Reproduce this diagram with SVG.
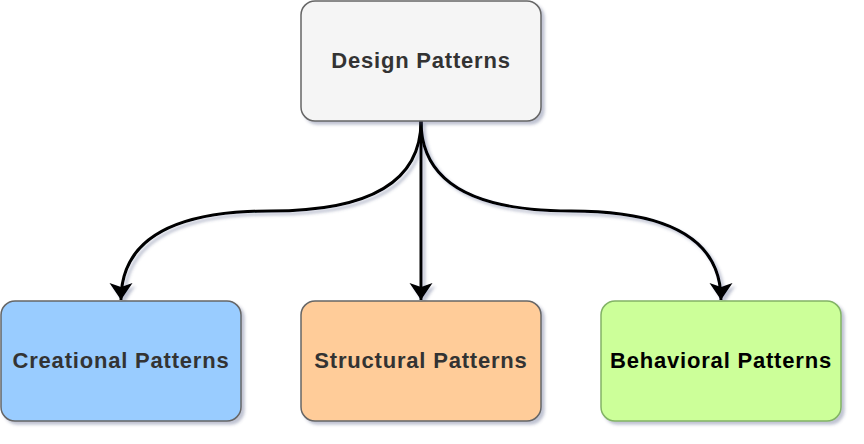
<svg xmlns="http://www.w3.org/2000/svg" width="864" height="444" viewBox="0 0 864 444">
  <style>
    .box { stroke-width: 1.5; }
    .lbl { font-family: "Liberation Sans", Arial, sans-serif; font-weight: bold; font-size: 22px; letter-spacing: 0.8px; text-anchor: middle; }
    .edge { fill: none; stroke: #000; stroke-width: 3; }
  </style>
  <defs>
    <filter id="sh" x="-10%" y="-10%" width="130%" height="130%">
      <feDropShadow dx="3" dy="3" stdDeviation="1.8" flood-color="#4a5580" flood-opacity="0.35"/>
    </filter>
    <marker id="arr" viewBox="0 0 24 24" refX="22" refY="12" markerWidth="24" markerHeight="24" markerUnits="userSpaceOnUse" orient="auto">
      <path d="M22,12 L5,0.5 L9,12 L5,23.5 Z" fill="#000"/>
    </marker>
  </defs>
  <rect width="864" height="444" fill="#ffffff"/>
  <g id="connectors" filter="url(#sh)">
    <path class="edge" d="M421,121 Q421,211 271,211 Q121,211 121,300" marker-end="url(#arr)"/>
    <path class="edge" d="M421,121 L421,300" marker-end="url(#arr)"/>
    <path class="edge" d="M421,121 Q421,211 571,211 Q721,211 721,300" marker-end="url(#arr)"/>
  </g>
  <g id="design-patterns">
    <rect class="box" x="301" y="1" width="240" height="120" rx="14" fill="#f5f5f5" stroke="#666666" filter="url(#sh)"/>
    <text class="lbl" x="421" y="68" fill="#333333">Design Patterns</text>
  </g>
  <g id="creational">
    <rect class="box" x="1" y="301" width="240" height="120" rx="14" fill="#99ccff" stroke="#666666" filter="url(#sh)"/>
    <text class="lbl" x="121" y="368" fill="#333333">Creational Patterns</text>
  </g>
  <g id="structural">
    <rect class="box" x="301" y="301" width="240" height="120" rx="14" fill="#ffcc99" stroke="#666666" filter="url(#sh)"/>
    <text class="lbl" x="421" y="368" fill="#333333">Structural Patterns</text>
  </g>
  <g id="behavioral">
    <rect class="box" x="601" y="301" width="240" height="120" rx="14" fill="#ccff99" stroke="#82b366" filter="url(#sh)"/>
    <text class="lbl" x="721" y="368" fill="#000000">Behavioral Patterns</text>
  </g>
</svg>
